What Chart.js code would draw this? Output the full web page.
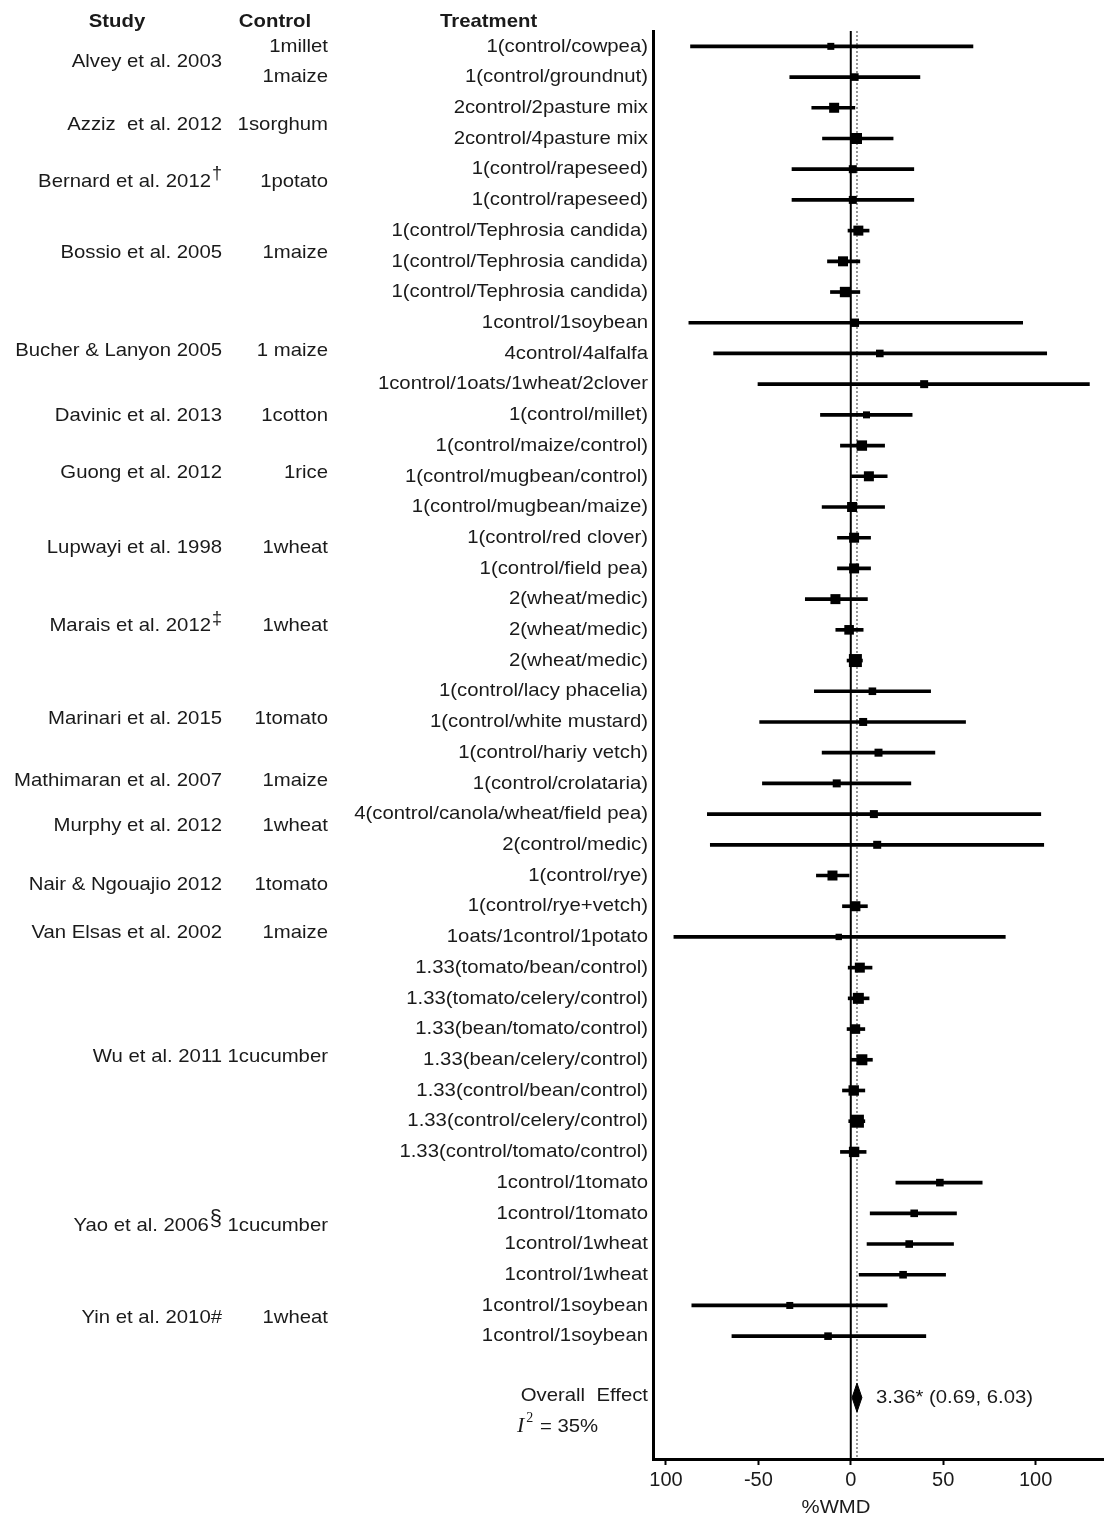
<!DOCTYPE html>
<html>
<head>
<meta charset="utf-8">
<script src="https://cdn.jsdelivr.net/npm/chart.js@4.4.0/dist/chart.umd.min.js"></script>
<style>
  body { margin: 0; background: #fff; }
  #wrap { width: 1104px; height: 1519px; position: relative; }
</style>
</head>
<body>
<div id="wrap"><canvas id="forest" width="1104" height="1519"></canvas></div>
<script>
// treatment rows, top to bottom
var treatments = [
  '1(control/cowpea)', '1(control/groundnut)', '2control/2pasture mix', '2control/4pasture mix',
  '1(control/rapeseed)', '1(control/rapeseed)', '1(control/Tephrosia candida)',
  '1(control/Tephrosia candida)', '1(control/Tephrosia candida)', '1control/1soybean',
  '4control/4alfalfa', '1control/1oats/1wheat/2clover', '1(control/millet)',
  '1(control/maize/control)', '1(control/mugbean/control)', '1(control/mugbean/maize)',
  '1(control/red clover)', '1(control/field pea)', '2(wheat/medic)', '2(wheat/medic)',
  '2(wheat/medic)', '1(control/lacy phacelia)', '1(control/white mustard)',
  '1(control/hariy vetch)', '1(control/crolataria)', '4(control/canola/wheat/field pea)',
  '2(control/medic)', '1(control/rye)', '1(control/rye+vetch)', '1oats/1control/1potato',
  '1.33(tomato/bean/control)', '1.33(tomato/celery/control)', '1.33(bean/tomato/control)',
  '1.33(bean/celery/control)', '1.33(control/bean/control)', '1.33(control/celery/control)',
  '1.33(control/tomato/control)', '1control/1tomato', '1control/1tomato', '1control/1wheat',
  '1control/1wheat', '1control/1soybean', '1control/1soybean'
];

// %WMD and 95% CI
var effect = [-10.8, 2.2, -9, 3.1, 1.1, 1.1, 4.1, -4.2, -3.1, 2.2, 15.7, 39.7, 8.5, 6, 9.8, 0.7,
  1.8, 1.8, -8.3, -0.9, 2.5, 11.7, 6.7, 15, -7.6, 12.5, 14.3, -9.9, 2.5, -6.5, 4.9, 4.1, 2.5, 6,
  1.6, 3.6, 1.8, 48.2, 34.3, 31.6, 28.3, -33, -12.3];
var ciLow = [-86.7, -33, -21.1, -15.3, -31.8, -31.8, -1.5, -12.6, -11, -87.6, -74.2, -50.2, -16.4,
  -5.6, 0.4, -15.5, -7.2, -7.2, -24.6, -8.1, -2, -19.7, -49.3, -15.5, -47.8, -77.6, -76, -18.6,
  -4.5, -95.7, -1.4, -1.4, -2, 0.2, -4.5, -1.1, -5.6, 24.4, 10.5, 8.8, 4.5, -86, -64.3];
var ciHigh = [66.1, 37.4, 2.2, 22.9, 34.1, 34.1, 9.9, 4.9, 4.9, 93, 106, 129.1, 33.2, 18.3, 19.7,
  18.3, 10.7, 10.7, 9, 6.7, 6.3, 43.2, 62.1, 45.5, 32.5, 102.8, 104.4, -0.9, 9, 83.6, 11.5, 9.9,
  7.6, 11.7, 7.6, 7.6, 8.3, 71.1, 57.2, 55.6, 51.3, 19.7, 40.6];
// relative study weights (marker size)
var weights = [1.75, 1.9, 2.5, 2.75, 2, 2, 2.5, 2.5, 2.6, 2.1, 1.9, 2, 1.75, 2.6, 2.5, 2.5, 2.5,
  2.5, 2.5, 2.4, 3.25, 1.9, 2, 2, 2, 2, 2, 2.5, 2.5, 1.6, 2.5, 2.75, 2.4, 2.75, 2.6, 3.25, 2.6,
  1.9, 1.9, 1.9, 1.9, 1.75, 1.9];

// overall effect
var overall = 3.36, overallLow = 0.69, overallHigh = 6.03;
var overallRow = 45;

// study column (row position) and control column
var studies = ['Alvey et al. 2003', 'Azziz  et al. 2012', 'Bernard et al. 2012', 'Bossio et al. 2005',
  'Bucher & Lanyon 2005', 'Davinic et al. 2013', 'Guong et al. 2012', 'Lupwayi et al. 1998',
  'Marais et al. 2012', 'Marinari et al. 2015', 'Mathimaran et al. 2007', 'Murphy et al. 2012',
  'Nair & Ngouajio 2012', 'Van Elsas et al. 2002', 'Wu et al. 2011', 'Yao et al. 2006',
  'Yin et al. 2010#'];
var studyMarks = ['', '', '\u2020', '', '', '', '', '', '\u2021', '', '', '', '', '', '', '\u00a7', ''];
var studyRow = [1.5, 3.55, 5.4, 7.72, 10.91, 13.02, 14.88, 17.32, 19.86, 22.88, 24.93, 26.37,
  28.29, 29.85, 33.89, 39.42, 42.41];
var controls = ['1millet', '1maize', '1sorghum', '1potato', '1maize', '1 maize', '1cotton', '1rice',
  '1wheat', '1wheat', '1tomato', '1maize', '1wheat', '1tomato', '1maize', '1cucumber', '1cucumber',
  '1wheat'];
var controlRow = [1, 2, 3.55, 5.4, 7.72, 10.91, 13.02, 14.88, 17.32, 19.86, 22.88, 24.93, 26.37,
  28.29, 29.85, 33.89, 39.42, 42.41];

var tickValues = [-100, -50, 0, 50, 100];
var tickLabels = ['100', '-50', '0', '50', '100'];

var FONT = '"Liberation Sans", Arial, sans-serif';
var INK = '#1a1a1a';
var SX = 1.07; // labels in the figure are slightly wide

function putText(ctx, text, x, y, align, font, sx) {
  ctx.save();
  ctx.font = font;
  ctx.textBaseline = 'middle';
  ctx.textAlign = 'left';
  var w = ctx.measureText(text).width * sx;
  var left = align === 'right' ? x - w : (align === 'center' ? x - w / 2 : x);
  ctx.translate(left, y);
  ctx.scale(sx, 1);
  ctx.fillText(text, 0, 0);
  ctx.restore();
  return w;
}

var labelPlugin = {
  id: 'forestLabels',
  afterDraw: function (chart) {
    var ctx = chart.ctx, y = chart.scales.y, x = chart.scales.x;
    ctx.fillStyle = INK;
    var f = '19px ' + FONT;

    putText(ctx, 'Study', 117, 22, 'center', 'bold 19px ' + FONT, SX);
    putText(ctx, 'Control', 275, 22, 'center', 'bold 19px ' + FONT, SX);
    putText(ctx, 'Treatment', 440, 22, 'left', 'bold 19px ' + FONT, SX);

    for (var i = 0; i < studies.length; i++) {
      var py = y.getPixelForValue(studyRow[i]);
      var markW = 0;
      if (studyMarks[i]) {
        var mf = (studyMarks[i] === '\u00a7' ? '22px ' : '18px ') + FONT;
        ctx.save();
        ctx.font = mf;
        markW = ctx.measureText(studyMarks[i]).width + 1;
        ctx.restore();
        putText(ctx, studyMarks[i], 222, py - 7, 'right', mf, 1);
      }
      putText(ctx, studies[i], 222 - markW, py, 'right', f, SX);
    }
    for (var j = 0; j < controls.length; j++) {
      putText(ctx, controls[j], 328, y.getPixelForValue(controlRow[j]), 'right', f, SX);
    }
    for (var k = 0; k < treatments.length; k++) {
      putText(ctx, treatments[k], 648, y.getPixelForValue(k + 1), 'right', f, SX);
    }

    // overall effect
    var oy = y.getPixelForValue(overallRow);
    putText(ctx, 'Overall  Effect', 648, oy - 2, 'right', f, SX);
    putText(ctx, overall.toFixed(2) + '* (' + overallLow.toFixed(2) + ', ' + overallHigh.toFixed(2) + ')',
      x.getPixelForValue(overallHigh) + 14, oy, 'left', f, SX);
    var iy = oy + 29;
    var w1 = putText(ctx, 'I', 517, iy, 'left', 'italic 22px "Liberation Serif", "Times New Roman", serif', 1);
    var w2 = putText(ctx, '2', 517 + w1 + 2, iy - 8, 'left', '14px "Liberation Serif", serif', 1);
    putText(ctx, ' = 35%', 517 + w1 + w2 + 3, iy, 'left', f, SX);

    // axis title
    putText(ctx, '%WMD', 836, 1508, 'center', '19px ' + FONT, SX);
  }
};

var ciBars = [], points = [];
for (var r = 0; r < treatments.length; r++) {
  ciBars.push({ x: [ciLow[r], ciHigh[r]], y: r + 1 });
  points.push({ x: effect[r], y: r + 1 });
}

var chart = new Chart(document.getElementById('forest'), {
  type: 'scatter',
  data: {
    datasets: [
      {
        type: 'line',
        data: [{ x: 0, y: 0.5 }, { x: 0, y: 47 }],
        borderColor: '#000', borderWidth: 2, pointRadius: 0, order: 5
      },
      {
        type: 'line',
        data: [{ x: overall, y: 0.5 }, { x: overall, y: 47 }],
        borderColor: '#333', borderWidth: 1, borderDash: [2, 2], pointRadius: 0, order: 4
      },
      {
        type: 'bar',
        indexAxis: 'y',
        data: ciBars,
        backgroundColor: '#000',
        borderWidth: 0,
        barThickness: 3,
        order: 3
      },
      {
        type: 'scatter',
        data: points,
        pointStyle: 'rect',
        backgroundColor: '#000',
        borderWidth: 0,
        pointRadius: function (c) { return (weights[c.dataIndex] * 4) / Math.SQRT2; },
        pointHoverRadius: function (c) { return (weights[c.dataIndex] * 4) / Math.SQRT2; },
        order: 2
      },
      {
        type: 'line',
        data: [
          { x: overallLow, y: overallRow }, { x: overall, y: overallRow - 0.47 },
          { x: overallHigh, y: overallRow }, { x: overall, y: overallRow + 0.47 },
          { x: overallLow, y: overallRow }
        ],
        borderColor: '#000', borderWidth: 1, backgroundColor: '#000',
        fill: 'shape', pointRadius: 0, tension: 0, order: 1
      }
    ]
  },
  options: {
    responsive: false,
    animation: false,
    devicePixelRatio: 1,
    layout: { autoPadding: false, padding: { left: 653, top: 31, right: 0, bottom: 0 } },
    plugins: { legend: { display: false }, tooltip: { enabled: false } },
    scales: {
      x: {
        type: 'linear', min: -107, max: 137, offset: false,
        afterFit: function (s) { s.height = 60; s.paddingLeft = 0; s.paddingRight = 0; },
        afterBuildTicks: function (s) { s.ticks = tickValues.map(function (v) { return { value: v }; }); },
        ticks: {
          color: INK, padding: 3, font: { family: FONT, size: 20 },
          callback: function (v) { return tickLabels[tickValues.indexOf(v)]; }
        },
        grid: { offset: false, drawOnChartArea: false, drawTicks: true, tickLength: 6, tickWidth: 2, tickColor: '#000' },
        border: { color: '#000', width: 3 }
      },
      y: {
        type: 'linear', reverse: true, min: 0.5, max: 47, offset: false,
        afterFit: function (s) { s.width = 0; s.paddingTop = 0; s.paddingBottom = 0; },
        ticks: { display: false },
        grid: { offset: false, drawOnChartArea: false, drawTicks: false },
        border: { color: '#000', width: 3 }
      }
    }
  },
  plugins: [labelPlugin]
});
</script>
</body>
</html>
